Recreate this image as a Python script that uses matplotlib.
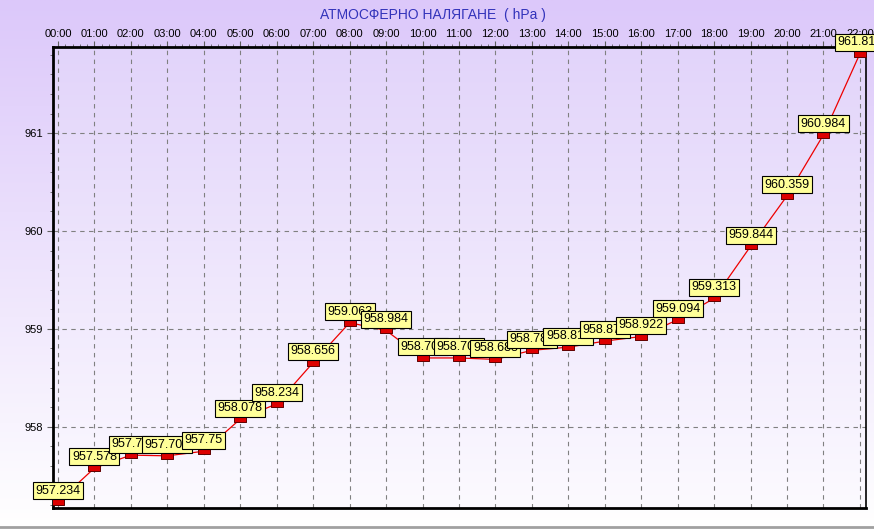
import matplotlib
matplotlib.use("Agg")
import matplotlib.pyplot as plt
import numpy as np
from matplotlib.path import Path
from matplotlib.ticker import MultipleLocator

hours = ["00:00", "01:00", "02:00", "03:00", "04:00", "05:00", "06:00", "07:00",
         "08:00", "09:00", "10:00", "11:00", "12:00", "13:00", "14:00", "15:00",
         "16:00", "17:00", "18:00", "19:00", "20:00", "21:00", "22:00"]
pressure = [957.234, 957.578, 957.71, 957.703, 957.75, 958.078, 958.234, 958.656,
            959.063, 958.984, 958.703, 958.703, 958.688, 958.781, 958.813, 958.875,
            958.922, 959.094, 959.313, 959.844, 960.359, 960.984, 961.813]
labels = ["957.234", "957.578", "957.71", "957.703", "957.75", "958.078", "958.234",
          "958.656", "959.063", "958.984", "958.703", "958.703", "958.688", "958.781",
          "958.813", "958.875", "958.922", "959.094", "959.313", "959.844", "960.359",
          "960.984", "961.813"]
y_ticks = [958, 959, 960, 961]
title = "АТМОСФЕРНО НАЛЯГАНЕ  ( hPa )"

plt.rcParams['font.family'] = ['Liberation Sans', 'DejaVu Sans']

fig = plt.figure(figsize=(8.74, 5.29), dpi=100)

# figure gradient background
bg = fig.add_axes([0, 0, 1, 1], zorder=-10)
g = np.linspace(0, 1, 256)[:, None]
top_c = np.array([220, 200, 250]) / 255.0
bot_c = np.array([255, 255, 255]) / 255.0
img = top_c[None, None, :] * (1 - g[..., None]) + bot_c[None, None, :] * g[..., None]
img = np.repeat(img, 2, axis=1)
bg.imshow(img, aspect='auto', extent=[0, 1, 0, 1], origin='upper')
bg.plot([0, 1], [0.004, 0.004], color='#a0a0a0', lw=2)
bg.set_xlim(0, 1); bg.set_ylim(0, 1)
bg.axis('off')

ax = fig.add_axes([0.0606, 0.0397, 0.930, 0.8715])
ax.set_facecolor('none')
x = np.arange(len(hours))

# axes gradient
top_a = np.array([226, 212, 250]) / 255.0
bot_a = np.array([252, 250, 255]) / 255.0
img2 = top_a[None, None, :] * (1 - g[..., None]) + bot_a[None, None, :] * g[..., None]
img2 = np.repeat(img2, 2, axis=1)
ax.imshow(img2, aspect='auto', extent=[0, 1, 0, 1], origin='upper',
          transform=ax.transAxes, zorder=0)

ax.set_xlim(-0.137, 22.16)
ax.set_ylim(957.17, 961.88)

ax.grid(True, which='major', color='#808080', linestyle=(0, (4, 4)), linewidth=0.8, zorder=1)

ax.plot(x, pressure, color='#ee0000', lw=0.9, zorder=3)
rect = Path([(-1, -0.5), (1, -0.5), (1, 0.5), (-1, 0.5), (-1, -0.5)],
            [Path.MOVETO, Path.LINETO, Path.LINETO, Path.LINETO, Path.CLOSEPOLY])
ax.plot(x, pressure, linestyle='none', marker=rect, markersize=8,
        markerfacecolor='#dd0000', markeredgecolor='#600000', markeredgewidth=0.7, zorder=4)

for i, (xi, yi, lab) in enumerate(zip(x, pressure, labels)):
    ax.annotate(lab, (xi, yi), xytext=(0, 8), textcoords='offset points',
                ha='center', va='center', fontsize=9, color='black',
                bbox=dict(boxstyle='square,pad=0.2', fc='#ffff99', ec='black', lw=0.8),
                zorder=10 + i, annotation_clip=False)

ax.xaxis.tick_top()
ax.set_xticks(x)
ax.set_xticklabels(hours, fontsize=8)
ax.xaxis.set_minor_locator(MultipleLocator(0.2))
ax.tick_params(axis='x', which='major', direction='out', length=4, pad=2, color='#606060')
ax.tick_params(axis='x', which='minor', direction='out', length=2, color='#606060')

ax.set_yticks(y_ticks)
ax.set_yticklabels([str(v) for v in y_ticks], fontsize=8)
ax.yaxis.set_minor_locator(MultipleLocator(0.2))
ax.tick_params(axis='y', which='major', direction='out', length=4, pad=3, color='#606060')
ax.tick_params(axis='y', which='minor', direction='out', length=2, color='#606060')

for s in ['left', 'bottom', 'top']:
    ax.spines[s].set_linewidth(2)
    ax.spines[s].set_color('black')
ax.spines['right'].set_linewidth(1.2)
ax.spines['right'].set_color('black')

fig.text(0.495, 0.972, title, ha='center', va='center', fontsize=10, color='#3333bb')

fig.savefig('out.png', dpi=100)
